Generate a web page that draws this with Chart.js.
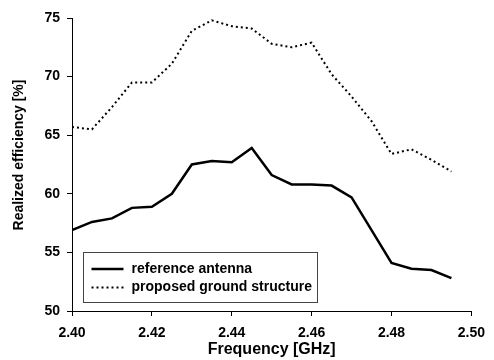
<!DOCTYPE html>
<html>
<head>
<meta charset="utf-8">
<script src="https://cdn.jsdelivr.net/npm/chart.js@4/dist/chart.umd.min.js"></script>
<style>
    html, body { margin: 0; padding: 0; background: #fff; }
    #wrap { width: 494px; height: 360px; }
</style>
</head>
<body>
<div id="wrap"><canvas id="efficiencyChart"></canvas></div>
<script>
// Frequency points [GHz]
const frequencies = [2.400, 2.405, 2.410, 2.415, 2.420, 2.425, 2.430, 2.435, 2.440, 2.445,
                     2.450, 2.455, 2.460, 2.465, 2.470, 2.475, 2.480, 2.485, 2.490, 2.495];

// Realized efficiency [%]
const referenceAntenna = [56.9, 57.6, 57.9, 58.8, 58.9, 60.0, 62.5, 62.8, 62.7, 63.9,
                          61.6, 60.8, 60.8, 60.7, 59.7, 56.9, 54.1, 53.6, 53.5, 52.8];
const proposedGround = [65.7, 65.5, 67.4, 69.5, 69.5, 71.1, 73.9, 74.8, 74.3, 74.1,
                        72.8, 72.5, 72.9, 70.2, 68.3, 66.2, 63.4, 63.8, 62.9, 61.9];

const xTicks = [2.40, 2.42, 2.44, 2.46, 2.48, 2.50];
const yTicks = [50, 55, 60, 65, 70, 75];

const seriesLabels = ['reference antenna', 'proposed ground structure'];
const yTitle = 'Realized efficiency [%]';
const xTitle = 'Frequency [GHz]';

const FONT = '"Liberation Sans", Arial, sans-serif';

Chart.defaults.font.family = FONT;
Chart.defaults.font.weight = 'bold';
Chart.defaults.font.size = 14;
Chart.defaults.color = '#000';

function toPoints(values) {
    return values.map((v, i) => ({ x: frequencies[i], y: v }));
}

/**
 * Boxed legend drawn inside the plot area (bottom left)
 */
const boxLegend = {
    id: 'boxLegend',
    afterDraw(chart) {
        const ctx = chart.ctx;
        const area = chart.chartArea;
        const left = area.left + 11.5;
        const top = area.bottom - 58.5;
        const w = 234;
        const h = 50;

        ctx.save();
        ctx.fillStyle = '#fff';
        ctx.fillRect(left, top, w, h);
        ctx.strokeStyle = '#444';
        ctx.lineWidth = 1;
        ctx.strokeRect(left, top, w, h);

        chart.data.datasets.forEach((ds, i) => {
            const y = top + 16.5 + i * 18.5;
            ctx.beginPath();
            ctx.setLineDash(ds.borderDash || []);
            ctx.lineWidth = ds.borderWidth;
            ctx.strokeStyle = ds.borderColor;
            ctx.moveTo(left + 8, y);
            ctx.lineTo(left + 40, y);
            ctx.stroke();
            ctx.setLineDash([]);
            ctx.fillStyle = '#000';
            ctx.font = 'bold 14px ' + FONT;
            ctx.textBaseline = 'middle';
            ctx.fillText(ds.label, left + 48, y);
        });
        ctx.restore();
    }
};

/**
 * Y axis title, placed a bit above the plot centre like the original
 */
const yAxisTitle = {
    id: 'yAxisTitle',
    afterDraw(chart) {
        const ctx = chart.ctx;
        ctx.save();
        ctx.translate(19, 155);
        ctx.rotate(-Math.PI / 2);
        ctx.font = 'bold 14px ' + FONT;
        ctx.fillStyle = '#000';
        ctx.textAlign = 'center';
        ctx.textBaseline = 'middle';
        ctx.fillText(yTitle, 0, 0);
        ctx.restore();
    }
};

new Chart(document.getElementById('efficiencyChart'), {
    type: 'line',
    data: {
        datasets: [
            {
                label: seriesLabels[0],
                data: toPoints(referenceAntenna),
                borderColor: '#000',
                borderWidth: 2.5,
                pointRadius: 0,
                tension: 0,
                fill: false
            },
            {
                label: seriesLabels[1],
                data: toPoints(proposedGround),
                borderColor: '#000',
                borderWidth: 2,
                borderDash: [2, 3],
                borderCapStyle: 'butt',
                pointRadius: 0,
                tension: 0,
                fill: false
            }
        ]
    },
    options: {
        responsive: true,
        maintainAspectRatio: false,
        animation: false,
        layout: {
            padding: { left: 0, right: 15, top: 18, bottom: 0 }
        },
        scales: {
            x: {
                type: 'linear',
                min: xTicks[0],
                max: xTicks[xTicks.length - 1],
                afterBuildTicks: function(scale) {
                    scale.ticks = xTicks.map(v => ({ value: v }));
                },
                afterFit: function(scale) {
                    scale.height = 49;
                },
                ticks: {
                    padding: 9,
                    callback: function(value) {
                        return Number(value).toFixed(2);
                    }
                },
                grid: {
                    drawOnChartArea: false,
                    drawTicks: true,
                    tickLength: 5,
                    color: '#000'
                },
                border: { display: true, color: '#000', width: 1 },
                title: {
                    display: true,
                    text: xTitle,
                    font: { size: 16, weight: 'bold' },
                    padding: { top: 0, bottom: 1 }
                }
            },
            y: {
                type: 'linear',
                min: yTicks[0],
                max: yTicks[yTicks.length - 1],
                afterBuildTicks: function(scale) {
                    scale.ticks = yTicks.map(v => ({ value: v }));
                },
                afterFit: function(scale) {
                    scale.width = 72;
                },
                ticks: {
                    padding: 7
                },
                grid: {
                    drawOnChartArea: false,
                    drawTicks: true,
                    tickLength: 5,
                    color: '#000'
                },
                border: { display: true, color: '#000', width: 1 }
            }
        },
        plugins: {
            legend: { display: false },
            tooltip: { enabled: false }
        }
    },
    plugins: [boxLegend, yAxisTitle]
});
</script>
</body>
</html>
